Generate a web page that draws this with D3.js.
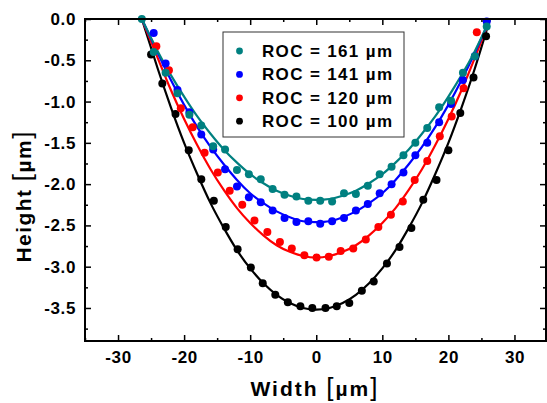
<!DOCTYPE html>
<html>
<head>
<meta charset="utf-8">
<script src="https://cdn.jsdelivr.net/npm/d3@7"></script>
<style>
  body { margin: 0; background: #fff; }
  text { font-family: "Liberation Sans", Arial, sans-serif; font-weight: bold; }
</style>
</head>
<body>
<div id="plot"></div>
<script>
// measured points (Width in um, Height in um)
var x161 = [-26.4,-24.6,-22.8,-21.0,-19.2,-17.4,-15.6,-13.8,-12.0,-10.2,-8.4,-6.6,-4.8,-3.0,-1.2,0.6,2.4,4.2,6.0,7.8,9.6,11.4,13.2,15.0,16.8,18.6,20.4,22.2,24.0,25.8];
var y161 = [0.00,-0.40,-0.65,-0.90,-1.16,-1.29,-1.54,-1.58,-1.83,-1.88,-1.94,-2.06,-2.13,-2.15,-2.20,-2.20,-2.21,-2.11,-2.12,-2.02,-1.88,-1.79,-1.65,-1.50,-1.32,-1.07,-0.99,-0.65,-0.45,-0.09];

var x141 = [-24.6,-22.8,-21.0,-19.2,-17.4,-15.6,-13.8,-12.0,-10.2,-8.4,-6.6,-4.8,-3.0,-1.2,0.6,2.4,4.2,6.0,7.8,9.6,11.4,13.2,15.0,16.8,18.6,20.4,22.2,24.0,25.8];
var y141 = [-0.17,-0.54,-0.86,-1.13,-1.40,-1.58,-1.82,-2.03,-2.16,-2.22,-2.32,-2.41,-2.46,-2.45,-2.48,-2.45,-2.41,-2.32,-2.24,-2.11,-2.00,-1.86,-1.65,-1.50,-1.25,-1.03,-0.74,-0.45,-0.03];

var x120 = [-24.2,-22.3,-20.5,-18.7,-16.9,-14.9,-13.1,-11.2,-9.35,-7.4,-5.5,-3.7,-1.8,0.05,1.9,3.7,5.6,7.5,9.4,11.3,13.1,14.9,16.8,18.7,20.5,22.3,24.3];
var y120 = [-0.33,-0.62,-1.08,-1.31,-1.62,-1.86,-2.08,-2.25,-2.44,-2.58,-2.70,-2.78,-2.86,-2.89,-2.88,-2.81,-2.78,-2.67,-2.52,-2.37,-2.21,-1.95,-1.72,-1.42,-1.18,-0.84,-0.16];

var x100 = [-25.0,-23.3,-21.3,-19.3,-17.4,-15.5,-13.7,-11.9,-9.9,-8.1,-6.2,-4.3,-2.4,-0.6,1.4,3.1,5.0,6.9,8.7,10.7,12.6,14.4,16.2,18.2,20.0,21.8,23.8,25.7];
var y100 = [-0.43,-0.78,-1.15,-1.59,-1.94,-2.20,-2.52,-2.79,-3.01,-3.20,-3.34,-3.43,-3.48,-3.50,-3.50,-3.48,-3.44,-3.29,-3.18,-2.96,-2.76,-2.53,-2.19,-1.95,-1.59,-1.14,-0.71,-0.21];

// fitted curves
var fitX   = [-26.4,-24,-22,-20,-18,-16,-14,-12,-10,-8,-6,-4,-2,0,2,4,6,8,10,12,14,16,18,20,22,24,26.3];
var fit161 = [0,-0.39,-0.68,-0.94,-1.18,-1.39,-1.58,-1.74,-1.88,-1.99,-2.08,-2.14,-2.18,-2.19,-2.18,-2.14,-2.08,-1.99,-1.88,-1.74,-1.58,-1.39,-1.18,-0.94,-0.68,-0.39,0];
var fit141 = [0,-0.41,-0.74,-1.04,-1.31,-1.55,-1.76,-1.95,-2.11,-2.23,-2.33,-2.40,-2.45,-2.46,-2.45,-2.40,-2.33,-2.23,-2.11,-1.95,-1.76,-1.55,-1.31,-1.04,-0.74,-0.41,0];
var fit120 = [0,-0.47,-0.86,-1.21,-1.53,-1.82,-2.07,-2.29,-2.47,-2.62,-2.74,-2.82,-2.87,-2.89,-2.87,-2.82,-2.74,-2.62,-2.47,-2.29,-2.07,-1.82,-1.53,-1.21,-0.86,-0.47,0];
var fit100 = [0,-0.60,-1.07,-1.50,-1.88,-2.23,-2.53,-2.80,-3.02,-3.20,-3.34,-3.44,-3.50,-3.52,-3.50,-3.44,-3.34,-3.20,-3.02,-2.80,-2.53,-2.23,-1.88,-1.50,-1.07,-0.60,0];

var legendLabels = ["ROC = 161 \u00b5m", "ROC = 141 \u00b5m", "ROC = 120 \u00b5m", "ROC = 100 \u00b5m"];
var colors = ["#008080", "#0000ff", "#ff0000", "#000000"];

var xTicks = [-30, -20, -10, 0, 10, 20, 30];
var xMinor = [-35, -25, -15, -5, 5, 15, 25, 35];
var yTicks = [0, -0.5, -1.0, -1.5, -2.0, -2.5, -3.0, -3.5];
var yMinor = [-0.25, -0.75, -1.25, -1.75, -2.25, -2.75, -3.25, -3.75];

var W = 547, H = 403;
var margin = {left: 85, right: 546, top: 19, bottom: 341};

var x = d3.scaleLinear().domain([-35, 35]).range([margin.left, 547.5]);
var y = d3.scaleLinear().domain([-3.9, 0]).range([margin.bottom, margin.top]);

var svg = d3.select("#plot").append("svg")
    .attr("width", W)
    .attr("height", H);

svg.append("defs").append("clipPath").attr("id", "clip")
  .append("rect").attr("x", margin.left).attr("y", margin.top)
    .attr("width", margin.right - margin.left).attr("height", margin.bottom - margin.top);

var series = [
  {xs: x100, ys: y100, fit: fit100, c: colors[3]},
  {xs: x120, ys: y120, fit: fit120, c: colors[2]},
  {xs: x141, ys: y141, fit: fit141, c: colors[1]},
  {xs: x161, ys: y161, fit: fit161, c: colors[0]}
];

var line = d3.line()
    .x(function(d) { return x(d[0]); })
    .y(function(d) { return y(d[1]); })
    .curve(d3.curveNatural);

var g = svg.append("g").attr("clip-path", "url(#clip)");

series.forEach(function(s) {
  g.append("path")
    .datum(fitX.map(function(v, i) { return [v, s.fit[i]]; }))
    .attr("d", line)
    .attr("fill", "none")
    .attr("stroke", s.c)
    .attr("stroke-width", 2.2);
});

series.forEach(function(s) {
  svg.append("g").selectAll("circle")
    .data(s.xs.map(function(v, i) { return [v, s.ys[i]]; }))
    .enter().append("circle")
      .attr("cx", function(d) { return x(d[0]); })
      .attr("cy", function(d) { return y(d[1]); })
      .attr("r", 4)
      .attr("fill", s.c);
});

// axes, ticks pointing inward
function styleAxis(sel) {
  sel.select(".domain").remove();
  sel.selectAll("line").attr("stroke", "#000").attr("stroke-width", 1.5);
  sel.selectAll("text").attr("font-size", 17).attr("letter-spacing", "0.6px").attr("fill", "#000");
}

svg.append("g").attr("transform", "translate(0," + margin.bottom + ")")
  .call(d3.axisBottom(x).tickValues(xTicks).tickSize(-6).tickPadding(10)
        .tickFormat(function(d) { return String(d); }))
  .call(styleAxis);
svg.append("g").attr("transform", "translate(0," + margin.bottom + ")")
  .call(d3.axisBottom(x).tickValues(xMinor).tickSize(-3).tickFormat(""))
  .call(styleAxis);
svg.append("g").attr("transform", "translate(0," + margin.top + ")")
  .call(d3.axisTop(x).tickValues(xTicks).tickSize(-6).tickFormat(""))
  .call(styleAxis);
svg.append("g").attr("transform", "translate(0," + margin.top + ")")
  .call(d3.axisTop(x).tickValues(xMinor).tickSize(-3).tickFormat(""))
  .call(styleAxis);

svg.append("g").attr("transform", "translate(" + margin.left + ",0)")
  .call(d3.axisLeft(y).tickValues(yTicks).tickSize(-6).tickPadding(9)
        .tickFormat(function(d) { return d.toFixed(1); }))
  .call(styleAxis);
svg.append("g").attr("transform", "translate(" + margin.left + ",0)")
  .call(d3.axisLeft(y).tickValues(yMinor).tickSize(-3).tickFormat(""))
  .call(styleAxis);
svg.append("g").attr("transform", "translate(" + margin.right + ",0)")
  .call(d3.axisRight(y).tickValues(yTicks).tickSize(-6).tickFormat(""))
  .call(styleAxis);
svg.append("g").attr("transform", "translate(" + margin.right + ",0)")
  .call(d3.axisRight(y).tickValues(yMinor).tickSize(-3).tickFormat(""))
  .call(styleAxis);

// frame
svg.append("rect")
  .attr("x", margin.left).attr("y", margin.top)
  .attr("width", margin.right - margin.left).attr("height", margin.bottom - margin.top)
  .attr("fill", "none").attr("stroke", "#000").attr("stroke-width", 2);

// axis titles, brackets drawn taller and thinner
function title(sel, word) {
  sel.append("tspan").text(word + " ");
  sel.append("tspan").attr("font-weight", "normal").attr("font-size", 26).text("[");
  sel.append("tspan").text("\u00b5m");
  sel.append("tspan").attr("font-weight", "normal").attr("font-size", 26).text("]");
}

svg.append("text")
  .attr("x", 314).attr("y", 396)
  .attr("text-anchor", "middle")
  .attr("font-size", 21)
  .attr("textLength", 127)
  .attr("lengthAdjust", "spacing")
  .call(title, "Width");

svg.append("text")
  .attr("transform", "translate(31,197) rotate(-90)")
  .attr("text-anchor", "middle")
  .attr("font-size", 21)
  .attr("textLength", 131)
  .attr("lengthAdjust", "spacing")
  .call(title, "Height");

// legend
var lg = svg.append("g");
lg.append("rect")
  .attr("x", 223).attr("y", 32)
  .attr("width", 181).attr("height", 105)
  .attr("fill", "#fff").attr("stroke", "#333").attr("stroke-width", 1);
legendLabels.forEach(function(t, i) {
  var yy = 51 + i * 23.4;
  lg.append("circle").attr("cx", 239.5).attr("cy", yy).attr("r", 3.4).attr("fill", colors[i]);
  lg.append("text").attr("x", 262).attr("y", yy + 6)
    .attr("font-size", 17)
    .attr("textLength", 130)
    .attr("lengthAdjust", "spacing")
    .text(t);
});
</script>
</body>
</html>
